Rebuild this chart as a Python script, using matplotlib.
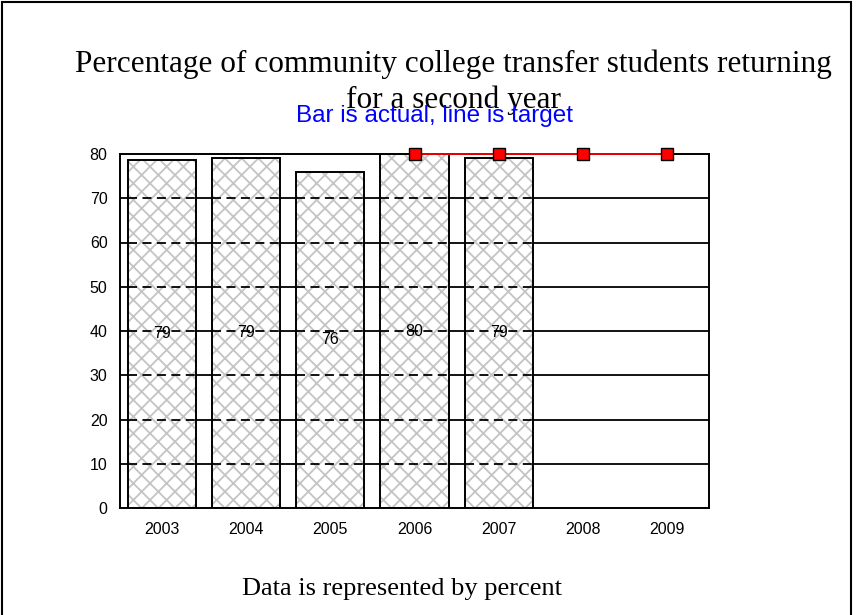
import matplotlib.pyplot as plt
from matplotlib.patches import Rectangle

years = ["2003", "2004", "2005", "2006", "2007", "2008", "2009"]
actual = [78.7, 79.2, 76.0, 80.0, 79.1]
actual_labels = ["79", "79", "76", "80", "79"]
target_years = ["2006", "2007", "2008", "2009"]
target = [80, 80, 80, 80]

plt.rcParams['hatch.linewidth'] = 1.3
plt.rcParams['hatch.color'] = '#c4c4c4'

fig = plt.figure(figsize=(8.58, 6.15), dpi=100)
ax = fig.add_axes([120/858, 1 - 508/615, 589/858, 354/615])

x = list(range(len(years)))
xa = x[:len(actual)]
w = 0.81

# solid grid across the plot
for v in range(10, 80, 10):
    ax.axhline(v, color='black', lw=1.3, zorder=0)

# hatched bars (gray hatch), then black outline
ax.bar(xa, actual, width=w, color='white', edgecolor='#c4c4c4', hatch='xx', lw=0, zorder=1)
ax.bar(xa, actual, width=w, color='none', edgecolor='black', lw=1.4, zorder=3)

# dashed grid over bars
for i in xa:
    for v in range(10, 80, 10):
        if v < actual[i]:
            ax.hlines(v, i - w/2, i + w/2, color='black', lw=1.3, linestyles=(0, (5, 3)), zorder=2)

for i, v in enumerate(actual):
    ax.text(i, v/2, actual_labels[i], ha='center', va='center', fontsize=11.5,
            family='Liberation Sans', zorder=4)

tx = [years.index(y) for y in target_years]
ax.plot(tx, target, color='red', lw=1.3, marker='s', markersize=8.5,
        markerfacecolor='red', markeredgecolor='black', markeredgewidth=1.0,
        zorder=5, clip_on=False)

ax.set_xlim(-0.5, len(years) - 0.5)
ax.set_ylim(0, 80)
ax.set_yticks(range(0, 81, 10))
ax.set_xticks(x)
ax.set_xticklabels(years)
ax.tick_params(length=0, labelsize=11.5)
ax.tick_params(axis='x', pad=10)
ax.tick_params(axis='y', pad=9)
for lab in ax.get_xticklabels() + ax.get_yticklabels():
    lab.set_family('Liberation Sans')
for s in ax.spines.values():
    s.set_linewidth(1.4)

fig.text(453/858, 1 - 82/615, "Percentage of community college transfer students returning\nfor a second year",
         ha='center', va='center', fontsize=22.5, family='Liberation Serif', linespacing=1.3)
fig.text(435/858, 1 - 116/615, "Bar is actual, line is target", ha='center', va='center',
         fontsize=17.5, color='blue', family='Liberation Sans')
fig.text(242/858, 1 - 589/615, "Data is represented by percent", ha='left', va='center',
         fontsize=19, family='Liberation Serif')

fig.patches.append(Rectangle((2/858, -0.1), 849/858, 1.1 - 2/615, transform=fig.transFigure,
                             fill=False, edgecolor='black', lw=1.5))

fig.savefig("out.png", dpi=100)
